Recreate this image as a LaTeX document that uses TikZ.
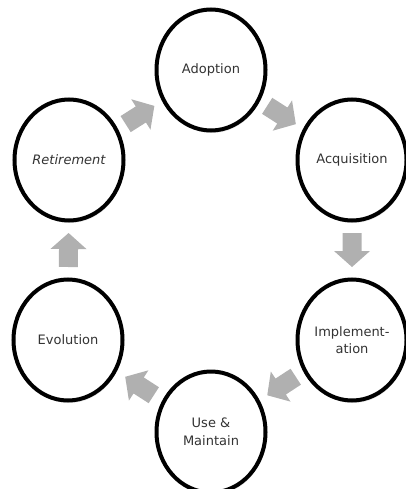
\documentclass[tikz,border=0pt]{standalone}
\usepackage{fontspec}
\setmainfont{DejaVu Sans}
\usetikzlibrary{shapes.geometric,shadows}
\definecolor{ringtext}{HTML}{333333}
\definecolor{flowgray}{HTML}{B0B0B0}
\tikzset{
  stage/.style={ellipse, draw=black, line width=4pt, fill=white,
    minimum width=109pt, minimum height=121pt, inner sep=0pt,
    text=ringtext, font=\fontsize{13}{17.5}\selectfont, align=center,
    drop shadow={opacity=0.2, shadow xshift=1pt, shadow yshift=-2.5pt}},
  blockarrow/.pic={
    \fill[flowgray] (-17pt,-9.5pt) -- (1pt,-9.5pt) -- (1pt,-18pt) -- (17pt,0pt)
      -- (1pt,18pt) -- (1pt,9.5pt) -- (-17pt,9.5pt) -- cycle;
  },
  flow/.style={midway, sloped, allow upside down}
}
\begin{document}
\begin{tikzpicture}[x=1pt, y=-1pt]
\useasboundingbox (0,0) rectangle (406,489);
% the six stages of the cycle
\node[stage] (ado) at (211,70)  {Adoption};
\node[stage] (acq) at (352,160) {Acquisition};
\node[stage] (imp) at (352,340) {Implement-\\ation};
\node[stage] (use) at (211,432) {Use \&\\Maintain};
\node[stage] (evo) at (68,340)  {Evolution};
\node[stage] (ret) at (69,160)  {\itshape Retirement};
% block arrows between consecutive stages
\path (ret) -- (ado) pic[flow] {blockarrow};
\path (ado) -- (acq) pic[flow] {blockarrow};
\path (acq) -- (imp) pic[flow] {blockarrow};
\path (imp) -- (use) pic[flow] {blockarrow};
\path (use) -- (evo) pic[flow] {blockarrow};
\path (evo) -- (ret) pic[flow] {blockarrow};
\end{tikzpicture}
\end{document}
